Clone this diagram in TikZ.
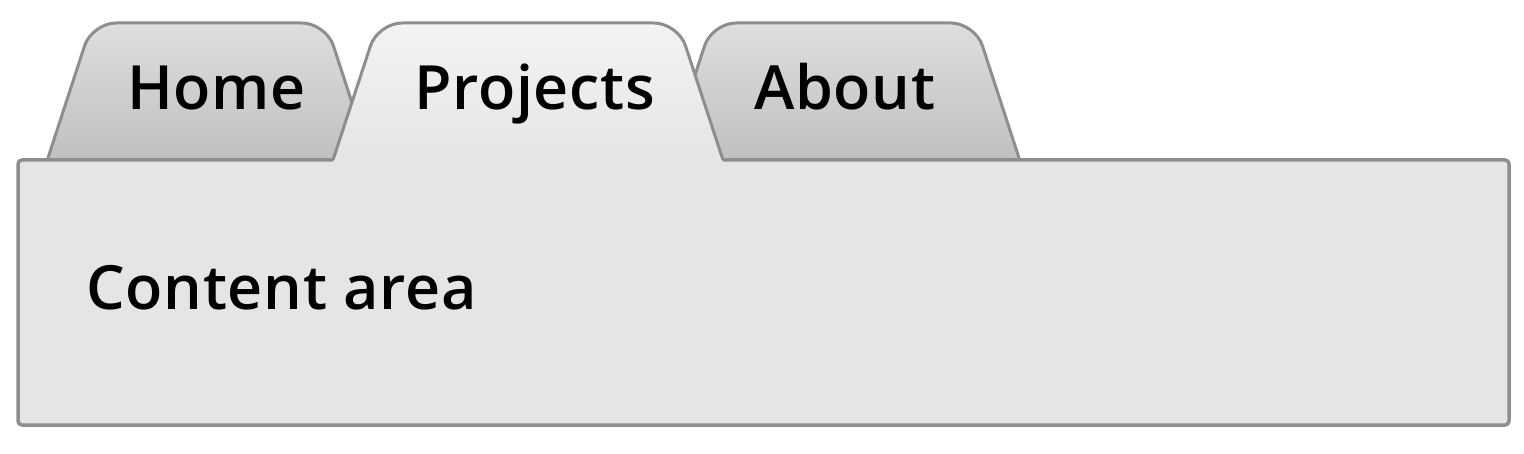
\documentclass[tikz,border=0pt]{standalone}
\usepackage{fontspec}
\setmainfont{Open Sans}
\newfontfamily\labfont[LetterSpace=1.2]{Open Sans Semibold}
\definecolor{edge}{HTML}{8E8E8E}
\definecolor{panel}{HTML}{E5E5E4}
\definecolor{tabtop}{HTML}{DEDEDD}
\definecolor{tabbot}{HTML}{C0C0BF}
\definecolor{seltop}{HTML}{F3F3F2}
\tikzset{
  tabline/.style={draw=edge, line width=3pt, line join=round},
  offtab/.style={tabline, top color=tabtop, bottom color=tabbot},
  label/.style={font=\labfont\fontsize{61}{70}\selectfont, text=black, inner sep=0pt, anchor=base west}
}
\begin{document}
\begin{tikzpicture}[x=1pt,y=-1pt]
\useasboundingbox[fill=white] (0,0) rectangle (1524,454);
% unselected tabs
\path[offtab] (47,161) [rounded corners=24] -- (92,23) -- (326,23) [sharp corners] -- (371,161) -- cycle;
\path[offtab] (667,161) [rounded corners=24] -- (712,23) -- (975,23) [sharp corners] -- (1020,161) -- cycle;
% content panel
\path[fill=panel, draw=edge, line width=3.5pt, rounded corners=4] (18,160) rectangle (1509,425);
% selected tab
\path[top color=seltop, bottom color=panel] (333,162) [rounded corners=24] -- (378,23) -- (678,23) [sharp corners] -- (723,162) -- cycle;
\path[fill=panel] (330,161.8) rectangle (726,175);
\draw[tabline] (333,160) [rounded corners=24] -- (378,23) -- (678,23) [sharp corners] -- (723,160);
% labels
\node[label] (home) at (127,110) {Home};
\node[label] (projects) at (414,110) {Projects};
\node[label] (about) at (754,110) {About};
\node[label] (content) at (86,310) {Content area};
\end{tikzpicture}
\end{document}
